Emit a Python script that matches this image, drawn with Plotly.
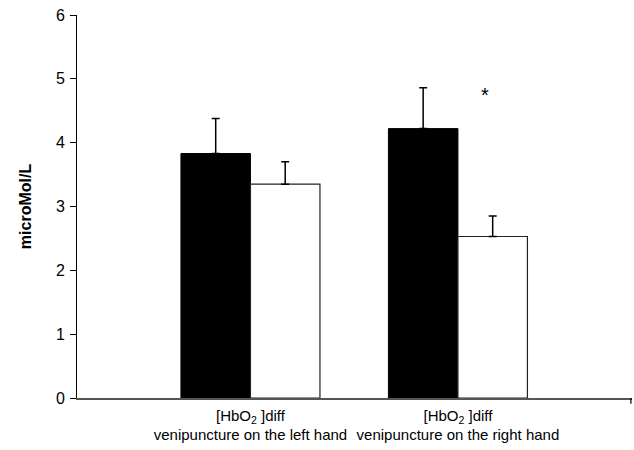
import plotly.graph_objects as go

categories = ["[HbO<sub>2</sub> ]diff<br>venipuncture on the left hand",
              "[HbO<sub>2</sub> ]diff<br>venipuncture on the right hand"]
black_vals = [3.83, 4.22]
black_err = [0.55, 0.64]
white_vals = [3.35, 2.53]
white_err = [0.35, 0.32]
y_ticks = [0, 1, 2, 3, 4, 5, 6]

xpos = [0, 1]

fig = go.Figure()
fig.add_trace(go.Bar(
    x=xpos, y=black_vals, name="A",
    marker=dict(color="black", line=dict(color="black", width=1)),
    error_y=dict(type="data", array=black_err, arrayminus=[0, 0], symmetric=False,
                 color="black", thickness=1.5, width=4),
))
fig.add_trace(go.Bar(
    x=xpos, y=white_vals, name="B",
    marker=dict(color="white", line=dict(color="#222", width=1.2)),
    error_y=dict(type="data", array=white_err, arrayminus=[0, 0], symmetric=False,
                 color="black", thickness=1.5, width=4),
))

fig.add_annotation(x=1.13, y=4.75, text="*", showarrow=False,
                   font=dict(size=20, color="black", family="Liberation Sans, Arial"))

fig.update_layout(
    width=634, height=450,
    margin=dict(l=77, r=2, t=15, b=52),
    barmode="group", bargap=0.33, bargroupgap=0,
    plot_bgcolor="white", paper_bgcolor="white",
    showlegend=False,
    font=dict(family="Liberation Sans, Arial", color="black"),
)
fig.update_xaxes(
    range=[-0.836, 1.839],
    tickmode="array", tickvals=xpos, ticktext=categories,
    tickfont=dict(size=15),
    ticklabelstandoff=3,
    showline=True, linecolor="#555", linewidth=1.5,
    showgrid=False, zeroline=False, ticks="",
)
fig.update_yaxes(
    range=[0, 6], tickvals=y_ticks,
    tickfont=dict(size=16),
    ticklabelstandoff=2,
    showline=True, linecolor="black", linewidth=1,
    ticks="outside", ticklen=6, tickcolor="black",
    showgrid=False, zeroline=False,
    title=dict(text="<b>microMol/L</b>", font=dict(size=16), standoff=20),
)
# right-end tick mark on the x axis
fig.add_shape(type="line", xref="paper", yref="y domain",
              x0=0.998, x1=0.998, y0=0, y1=-0.015,
              line=dict(color="black", width=1.2))

fig.write_html("out.html")
